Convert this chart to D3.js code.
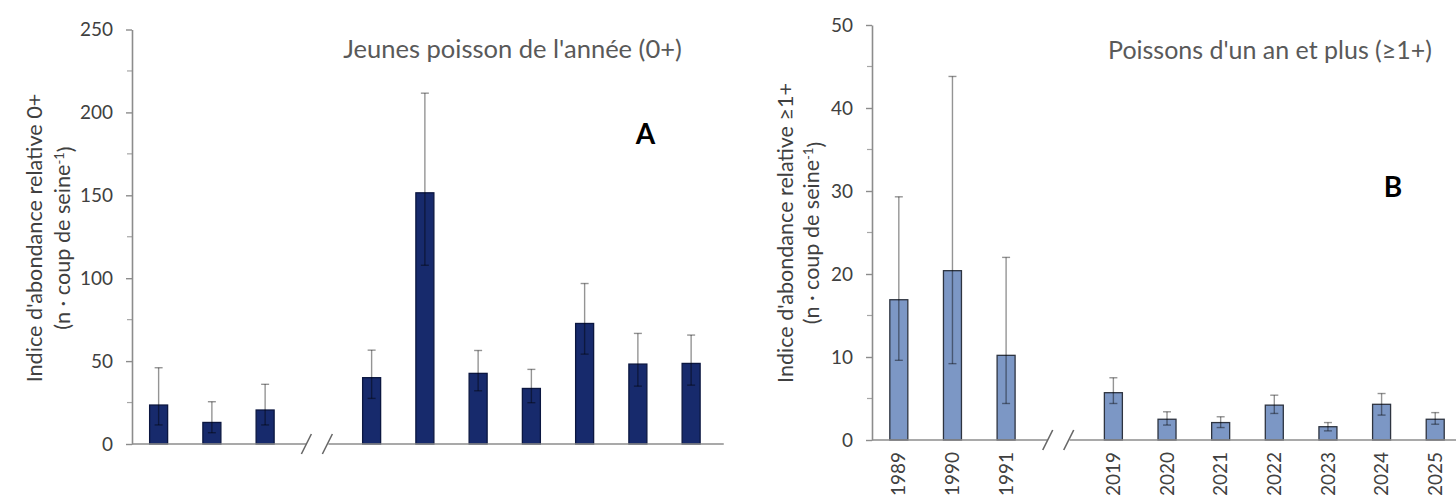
<!DOCTYPE html>
<html><head><meta charset="utf-8">
<script src="https://cdn.jsdelivr.net/npm/d3@7"></script>
<style>body{margin:0;background:#fff}svg{display:block}</style>
</head><body>
<svg id="c" width="1456" height="498"></svg>
<script>
// ---- data ----
const years = ["1989","1990","1991","2019","2020","2021","2022","2023","2024","2025"];
const slots = ["1989","1990","1991","break","2019","2020","2021","2022","2023","2024","2025"];
const meanA  = [23.5, 13.0, 20.5, 40.0, 151.5, 42.6, 33.5, 72.7, 48.2, 48.6];
const upperA = [46.0, 25.5, 36.0, 56.6, 211.6, 56.4, 45.0, 96.8, 66.7, 65.7];
const lowerA = [11.5, 6.8, 11.5, 27.5, 107.8, 32.1, 24.9, 54.2, 34.9, 35.5];
const meanB  = [16.9, 20.4, 10.2, 5.7, 2.5, 2.1, 4.2, 1.6, 4.3, 2.5];
const upperB = [29.3, 43.8, 22.0, 7.5, 3.4, 2.8, 5.4, 2.1, 5.6, 3.3];
const lowerB = [9.6, 9.2, 4.4, 4.4, 1.8, 1.5, 3.2, 1.1, 3.0, 1.9];
const ticksA = [0, 50, 100, 150, 200, 250];
const ticksB = [0, 10, 20, 30, 40, 50];

const FONT = "Lato, 'Open Sans', sans-serif";
const svg = d3.select("#c");

function fit(sel, target){
  const len = sel.node().getComputedTextLength();
  const fs = parseFloat(sel.attr("font-size"));
  sel.attr("font-size", fs*target/len);
  return fs*target/len;
}

// measure tick font size
const probe = svg.append("text").attr("font-family",FONT).attr("font-size",20).text("250");
const tickFS = fit(probe, 33);
probe.remove();

function panel(cfg){
  const g = svg.append("g");
  const x = d3.scalePoint().domain(slots).range([cfg.x0, cfg.x0 + 11*cfg.step]).padding(0.5);
  const y = d3.scaleLinear().domain([0, cfg.max]).range([cfg.yb, cfg.yt]);
  const bw = 18;

  // minor ticks
  const minor = d3.range(cfg.minorStep, cfg.max, cfg.minorStep*2);
  g.selectAll(".mn").data(minor).join("line")
    .attr("x1", cfg.x0-5).attr("x2", cfg.x0+1)
    .attr("y1", d=>y(d)).attr("y2", d=>y(d))
    .attr("stroke","#a6a6a6").attr("stroke-width",1.2);

  // y axis
  const ax = g.append("g").attr("transform",`translate(${cfg.x0},0)`)
    .call(d3.axisLeft(y).tickValues(cfg.ticks).tickSize(6).tickPadding(13).tickSizeOuter(0));
  ax.select(".domain").attr("stroke","#8c8c8c").attr("stroke-width",1.6);
  ax.selectAll(".tick line").attr("stroke","#8c8c8c").attr("stroke-width",1.4);
  ax.selectAll(".tick text").attr("font-family",FONT).attr("font-size",tickFS).attr("fill","#404040");

  // bars
  g.selectAll(".bar").data(years).join("rect")
    .attr("x", d=>x(d)-bw/2).attr("width", bw)
    .attr("y", (d,i)=>y(cfg.mean[i])).attr("height",(d,i)=>y(0)-y(cfg.mean[i]))
    .attr("fill", cfg.fill).attr("stroke", cfg.stroke).attr("stroke-width",1.3);

  // error bars
  const eb = g.selectAll(".eb").data(years).join("g")
    .attr("stroke","#000").attr("stroke-opacity",0.42).attr("stroke-width",1.4);
  eb.append("line").attr("x1",d=>x(d)).attr("x2",d=>x(d))
    .attr("y1",(d,i)=>y(cfg.up[i])).attr("y2",(d,i)=>y(cfg.lo[i]));
  eb.append("line").attr("x1",d=>x(d)-4).attr("x2",d=>x(d)+4)
    .attr("y1",(d,i)=>y(cfg.up[i])).attr("y2",(d,i)=>y(cfg.up[i]));
  eb.append("line").attr("x1",d=>x(d)-4).attr("x2",d=>x(d)+4)
    .attr("y1",(d,i)=>y(cfg.lo[i])).attr("y2",(d,i)=>y(cfg.lo[i]));

  // x axis with break
  const xb = x("break");
  const yb = y(0);
  g.append("line").attr("x1",cfg.x0).attr("x2",xb-12).attr("y1",yb).attr("y2",yb)
    .attr("stroke","#8c8c8c").attr("stroke-width",1.6);
  g.append("line").attr("x1",xb+10).attr("x2",cfg.x0+11*cfg.step+6).attr("y1",yb).attr("y2",yb)
    .attr("stroke","#8c8c8c").attr("stroke-width",1.6);
  [-12, 9].forEach(dx=>{
    g.append("line").attr("x1",xb+dx-5).attr("x2",xb+dx+5).attr("y1",yb+10).attr("y2",yb-10)
      .attr("stroke","#666").attr("stroke-width",1.6);
  });

  // x labels
  if(cfg.xlabels){
    g.selectAll(".xl").data(years).join("text")
      .attr("transform", d=>`translate(${x(d)},${yb+12}) rotate(-90)`)
      .attr("text-anchor","end").attr("dy","0.35em")
      .attr("font-family",FONT).attr("font-size",tickFS).attr("fill","#404040").text(d=>d);
  }

  // title
  const t = g.append("text").attr("x",cfg.tx).attr("y",cfg.ty).attr("text-anchor","middle")
    .attr("font-family",FONT).attr("font-size",20).attr("fill","#595959").text(cfg.title);
  fit(t, cfg.tw);

  // panel letter
  g.append("text").attr("x",cfg.lx).attr("y",cfg.ly).attr("text-anchor","middle")
    .attr("font-family",FONT).attr("font-weight","bold").attr("font-size",28).attr("fill","#000").text(cfg.letter);

  // y label
  const l1 = g.append("text").attr("transform",`translate(${cfg.l1x},${cfg.lyc}) rotate(-90)`)
    .attr("text-anchor","middle").attr("dy","0.35em")
    .attr("font-family",FONT).attr("font-size",18).attr("fill","#404040").text(cfg.ylab);
  const lfs = fit(l1, cfg.l1w);
  const l2 = g.append("text").attr("transform",`translate(${cfg.l2x},${cfg.lyc}) rotate(-90)`)
    .attr("text-anchor","middle").attr("dy","0.35em")
    .attr("font-family",FONT).attr("font-size",lfs).attr("fill","#404040");
  l2.append("tspan").text("(n · coup de seine");
  l2.append("tspan").attr("dy","-0.45em").attr("font-size",lfs*0.6).text("-1");
  l2.append("tspan").attr("dy","0.45em").text(")");
}

panel({x0:132, step:53.25, yb:444, yt:29.5, max:250, ticks:ticksA, minorStep:25,
  mean:meanA, up:upperA, lo:lowerA, fill:"#172a6c", stroke:"#0b1640", xlabels:false,
  title:"Jeunes poisson de l'année (0+)", tx:512.5, ty:58, tw:339,
  letter:"A", lx:645.5, ly:144,
  ylab:"Indice d'abondance relative 0+", l1x:34.5, l2x:62, lyc:238, l1w:289});

panel({x0:872, step:53.64, yb:440, yt:25, max:50, ticks:ticksB, minorStep:5,
  mean:meanB, up:upperB, lo:lowerB, fill:"#7c97c5", stroke:"#2e3440", xlabels:true,
  title:"Poissons d'un an et plus (≥1+)", tx:1270, ty:59, tw:324,
  letter:"B", lx:1393, ly:197,
  ylab:"Indice d'abondance relative ≥1+", l1x:785.5, l2x:811.5, lyc:233, l1w:300});
</script>
</body></html>
